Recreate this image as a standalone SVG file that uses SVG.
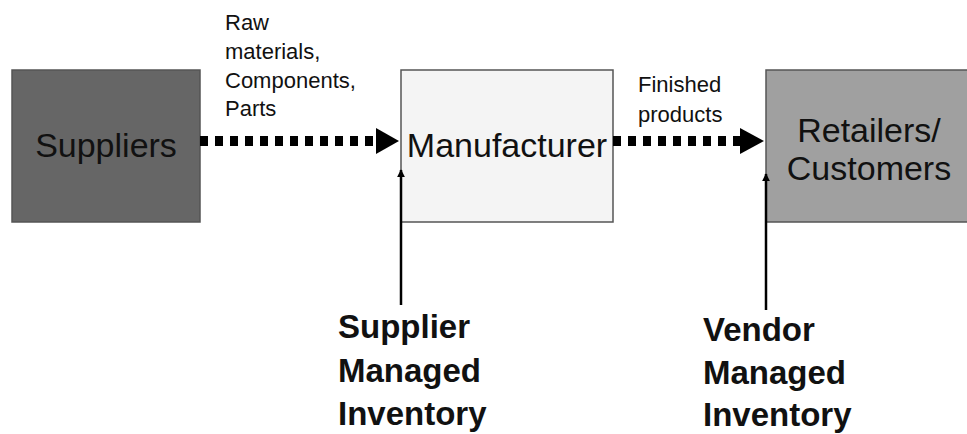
<svg xmlns="http://www.w3.org/2000/svg" width="967" height="434" viewBox="0 0 967 434">
<style>
text{font-family:"Liberation Sans",Arial,sans-serif;fill:#111}
.box{stroke:#555;stroke-width:1.5}
.big{font-size:34px}
.lbl{font-size:22px}
.bold{font-size:33px;font-weight:bold}
.dot{stroke:#000;stroke-width:10;stroke-dasharray:8 7;fill:none}
.up{stroke:#000;stroke-width:2.5;fill:none}
</style>
<defs>
<marker id="sm" viewBox="0 0 10 10" refX="9" refY="5" markerWidth="8" markerHeight="8" markerUnits="userSpaceOnUse" orient="auto"><path d="M0,0 L10,5 L0,10 z" fill="#000"/></marker>
</defs>
<rect width="967" height="434" fill="#fff"/>
<g id="suppliers"><rect class="box" x="12" y="70" width="188" height="152" fill="#666"/><text class="big" x="106" y="157" text-anchor="middle">Suppliers</text></g>
<g id="manufacturer"><rect class="box" x="401" y="70" width="212" height="152" fill="#f4f4f4"/><text class="big" x="507" y="157" text-anchor="middle">Manufacturer</text></g>
<g id="retailers"><rect class="box" x="766" y="70" width="210" height="152" fill="#a0a0a0"/><text class="big" x="869" y="142" text-anchor="middle">Retailers/</text><text class="big" x="869" y="180" text-anchor="middle">Customers</text></g>
<g id="label-raw"><text class="lbl" x="225" y="30">Raw</text><text class="lbl" x="225" y="59">materials,</text><text class="lbl" x="225" y="88">Components,</text><text class="lbl" x="225" y="116">Parts</text></g>
<g id="label-finished"><text class="lbl" x="638" y="92">Finished</text><text class="lbl" x="638" y="122">products</text></g>
<g id="smi"><text class="bold" x="338" y="338">Supplier</text><text class="bold" x="338" y="382">Managed</text><text class="bold" x="338" y="425">Inventory</text></g>
<g id="vmi"><text class="bold" x="703" y="341">Vendor</text><text class="bold" x="703" y="384">Managed</text><text class="bold" x="703" y="426">Inventory</text></g>
<g id="connectors">
<line class="dot" x1="200" y1="141" x2="376" y2="141"/>
<polygon points="376,128 399,141 376,154" fill="#000"/>
<line class="dot" x1="613" y1="141" x2="740" y2="141"/>
<polygon points="740,128 764,141 740,154" fill="#000"/>
<line class="up" x1="401" y1="305" x2="401" y2="170" marker-end="url(#sm)"/>
<line class="up" x1="766" y1="310" x2="766" y2="174" marker-end="url(#sm)"/>
</g>
</svg>
